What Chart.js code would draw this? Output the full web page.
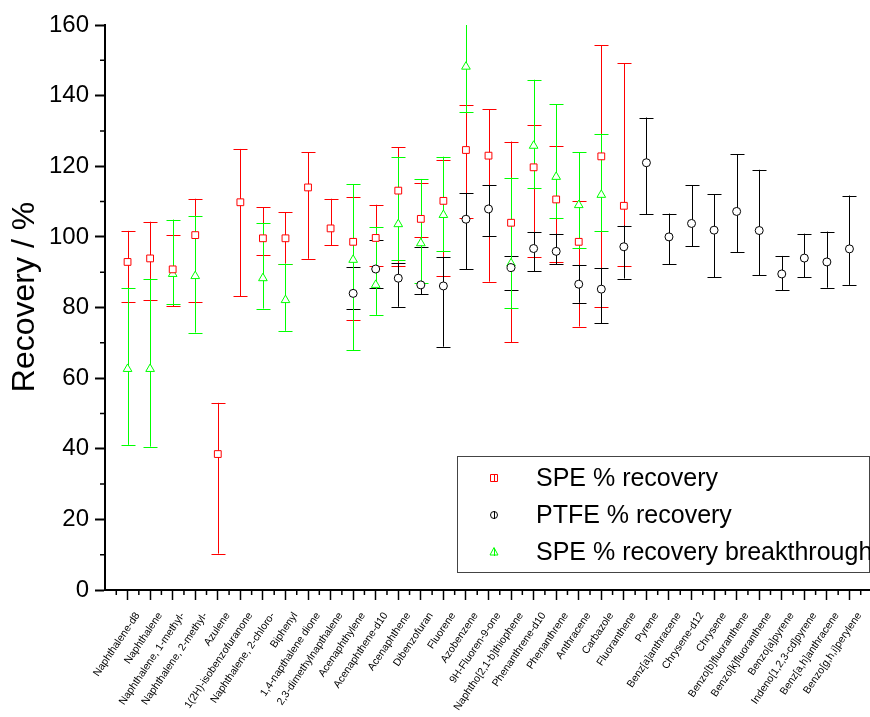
<!DOCTYPE html>
<html>
<head>
<meta charset="utf-8">
<script src="https://cdn.jsdelivr.net/npm/chart.js@4.4.0/dist/chart.umd.min.js"></script>
<style>
  html, body { margin: 0; padding: 0; background: #fff; }
  #wrap { width: 870px; height: 717px; position: relative; }
</style>
</head>
<body>
<div id="wrap"><canvas id="chart"></canvas></div>
<script>
const categories = [
  'Naphthalene-d8', 'Naphthalene', 'Naphthalene, 1-methyl-', 'Naphthalene, 2-methyl-', 'Azulene',
  '1(2H)-isobenzofuranone', 'Naphthalene, 2-chloro-', 'Biphenyl', '1,4-napthalene dione', '2,3-dimethylnapthalene',
  'Acenaphthylene', 'Acenaphthene-d10', 'Acenaphthene', 'Dibenzofuran', 'Fluorene',
  'Azobenzene', '9H-Fluoren-9-one', 'Naphtho[2,1-b]thiophene', 'Phenanthrene-d10', 'Phenanthrene',
  'Anthracene', 'Carbazole', 'Fluoranthene', 'Pyrene', 'Benz[a]anthracene',
  'Chrysene-d12', 'Chrysene', 'Benzo[b]fluoranthene', 'Benzo[k]fluoranthene', 'Benzo[a]pyrene',
  'Indeno[1,2,3-cd]pyrene', 'Benz[a,h]anthracene', 'Benzo[g,h,i]perylene'
];
const yTicks = [0, 20, 40, 60, 80, 100, 120, 140, 160];
const yMinorTicks = [10, 30, 50, 70, 90, 110, 130, 150];
const yTitle = 'Recovery / %';

// SPE % recovery (value, lower end, upper end of error bar)
const speRecovery = [92.9, 93.9, 90.8, 100.5, 38.5, 109.8, 99.6, 99.6, 114.0, 102.4, 98.6, 99.7, 113.1, 105.1, 110.2, 124.6, 123.0, 104.0, 119.7, 110.6, 98.6, 122.8, 108.8, null, null, null, null, null, null, null, null, null, null];
const speLow      = [81.6, 82.1, 80.4, 81.6, 10.3, 83.2, 94.8, 92.4, 93.8, 97.6, 76.5, 91.8, 91.8, 99.9, 89.0, 105.3, 87.3, 70.1, 94.3, 92.8, 74.6, 80.1, 91.7, null, null, null, null, null, null, null, null, null, null];
const speHigh     = [101.7, 104.3, 100.4, 110.8, 53.0, 124.9, 108.4, 107.0, 123.9, 110.8, 111.4, 109.1, 125.4, 115.3, 121.8, 137.4, 136.1, 127.0, 131.7, 125.6, 110.1, 154.3, 149.1, null, null, null, null, null, null, null, null, null, null];

// PTFE % recovery
const ptfeRecovery = [null, null, null, null, null, null, null, null, null, null, 84.0, 90.9, 88.3, 86.4, 86.1, 105.0, 107.9, 91.3, 96.7, 95.9, 86.6, 85.2, 97.2, 121.0, 100.0, 103.8, 101.9, 107.2, 101.8, 89.5, 94.0, 92.9, 96.6];
const ptfeLow      = [null, null, null, null, null, null, null, null, null, null, 79.5, 85.6, 80.2, 83.7, 68.9, 90.8, 100.3, 85.0, 90.3, 92.2, 81.4, 75.6, 88.2, 106.4, 92.2, 97.3, 88.6, 95.6, 89.2, 84.9, 88.6, 85.6, 86.4];
const ptfeHigh     = [null, null, null, null, null, null, null, null, null, null, 91.4, 99.0, 92.6, 97.2, 94.3, 112.4, 114.6, 94.5, 101.3, 100.9, 92.0, 91.2, 103.2, 133.8, 106.6, 114.6, 112.1, 123.4, 119.0, 94.6, 100.9, 101.5, 111.7];

// SPE % recovery breakthrough
const breakRecovery = [62.6, 62.6, 89.5, 88.9, null, null, 88.3, 82.1, null, null, 93.5, 86.4, 103.6, 98.2, 106.2, 148.2, null, 92.5, 125.8, 117.0, 109.0, 111.9, null, null, null, null, null, null, null, null, null, null, null];
const breakLow      = [41.1, 40.6, 80.9, 72.9, null, null, 79.7, 73.4, null, null, 67.9, 77.9, 93.4, 87.0, 95.9, 135.3, null, 79.9, 113.9, 105.4, 96.8, 101.7, null, null, null, null, null, null, null, null, null, null, null];
const breakHigh     = [85.4, 88.1, 104.9, 106.0, null, null, 103.9, 92.4, null, null, 114.9, 102.7, 122.6, 116.4, 122.7, 162.0, null, 116.8, 144.5, 137.5, 124.0, 129.2, null, null, null, null, null, null, null, null, null, null, null];

function points(vals, lows, highs) {
  const out = [];
  vals.forEach((v, i) => {
    if (v !== null) out.push({ x: i, y: v, yMin: lows[i], yMax: highs[i] });
  });
  return out;
}

const FONT = '"Liberation Sans", Arial, sans-serif';
Chart.defaults.font.family = FONT;
Chart.defaults.color = '#000';

// error bars under the markers
const errorBars = {
  id: 'errorBars',
  beforeDatasetsDraw(chart) {
    const ctx = chart.ctx, xs = chart.scales.x, ys = chart.scales.y, area = chart.chartArea;
    ctx.save();
    ctx.beginPath();
    ctx.rect(area.left, area.top, area.right - area.left, area.bottom - area.top);
    ctx.clip();
    chart.data.datasets.forEach(ds => {
      ctx.strokeStyle = ds.borderColor;
      ctx.lineWidth = 1;
      ds.data.forEach(p => {
        const x = Math.round(xs.getPixelForValue(p.x)) + 0.5;
        const y1 = ys.getPixelForValue(p.yMin);
        const y2 = ys.getPixelForValue(p.yMax);
        ctx.beginPath();
        ctx.moveTo(x, y1); ctx.lineTo(x, y2);
        ctx.moveTo(x - 7, Math.round(y1) + 0.5); ctx.lineTo(x + 7, Math.round(y1) + 0.5);
        ctx.moveTo(x - 7, Math.round(y2) + 0.5); ctx.lineTo(x + 7, Math.round(y2) + 0.5);
        ctx.stroke();
      });
    });
    ctx.restore();
  }
};

// minor ticks, axis title and the legend box
const extras = {
  id: 'extras',
  afterDraw(chart) {
    const ctx = chart.ctx, xs = chart.scales.x, ys = chart.scales.y, area = chart.chartArea;
    ctx.save();
    ctx.strokeStyle = '#000';
    ctx.lineWidth = 2;
    ctx.beginPath();
    ctx.moveTo(area.right - 1, area.bottom); ctx.lineTo(chart.width, area.bottom);
    ctx.stroke();
    ctx.lineWidth = 1.5;
    ctx.beginPath();
    for (let i = -0.5; i < categories.length + 0.5; i += 1) {
      const x = xs.getPixelForValue(i);
      ctx.moveTo(x, area.bottom); ctx.lineTo(x, area.bottom + 5);
    }
    yMinorTicks.forEach(v => {
      const y = ys.getPixelForValue(v);
      ctx.moveTo(area.left - 5, y); ctx.lineTo(area.left, y);
    });
    ctx.stroke();

    ctx.save();
    ctx.translate(25, 297);
    ctx.rotate(-Math.PI / 2);
    ctx.fillStyle = '#000';
    ctx.font = '32px ' + FONT;
    ctx.textAlign = 'center';
    ctx.textBaseline = 'middle';
    ctx.fillText(yTitle, 0, 0);
    ctx.restore();

    // legend
    const bx = 457, by = 456, bw = 412, bh = 116;
    ctx.strokeStyle = '#444';
    ctx.lineWidth = 1;
    ctx.strokeRect(bx + 0.5, by + 0.5, bw, bh);
    ctx.font = '25px ' + FONT;
    ctx.textBaseline = 'middle';
    ctx.textAlign = 'left';
    chart.data.datasets.forEach((ds, i) => {
      const my = by + 22 + i * 37;
      const mx = 494;
      ctx.strokeStyle = ds.borderColor;
      ctx.fillStyle = '#fff';
      ctx.lineWidth = 1;
      ctx.beginPath();
      if (ds.pointStyle === 'rect') {
        ctx.rect(mx - 3.5, my - 3.5, 7, 7);
      } else if (ds.pointStyle === 'circle') {
        ctx.arc(mx, my, 3.5, 0, Math.PI * 2);
      } else {
        ctx.moveTo(mx, my - 4.5); ctx.lineTo(mx + 4, my + 3); ctx.lineTo(mx - 4, my + 3); ctx.closePath();
      }
      ctx.fill();
      ctx.stroke();
      ctx.beginPath();
      ctx.moveTo(mx + 0.5, my - 4); ctx.lineTo(mx + 0.5, my + 4);
      ctx.stroke();
      ctx.fillStyle = '#000';
      ctx.fillText(ds.label, 536, my + 1);
    });
    ctx.restore();
  }
};

new Chart(document.getElementById('chart').getContext('2d'), {
  type: 'scatter',
  data: {
    datasets: [
      {
        label: 'SPE % recovery',
        data: points(speRecovery, speLow, speHigh),
        pointStyle: 'rect', pointRadius: 4.8, borderWidth: 1,
        borderColor: '#FF0000', backgroundColor: '#FFFFFF'
      },
      {
        label: 'PTFE % recovery',
        data: points(ptfeRecovery, ptfeLow, ptfeHigh),
        pointStyle: 'circle', pointRadius: 4, borderWidth: 1,
        borderColor: '#000000', backgroundColor: '#FFFFFF'
      },
      {
        label: 'SPE % recovery breakthrough',
        data: points(breakRecovery, breakLow, breakHigh),
        pointStyle: 'triangle', pointRadius: 5, borderWidth: 1,
        borderColor: '#00FF00', backgroundColor: '#FFFFFF'
      }
    ]
  },
  options: {
    responsive: true,
    maintainAspectRatio: false,
    animation: false,
    devicePixelRatio: 1,
    layout: { padding: { top: 25, right: 0, left: 0, bottom: 0 } },
    plugins: {
      legend: { display: false },
      tooltip: { enabled: false }
    },
    scales: {
      x: {
        type: 'linear',
        min: -1,
        max: 32.6,
        afterBuildTicks: s => { s.ticks = categories.map((c, i) => ({ value: i })); },
        afterFit: s => { s.height = 127; },
        ticks: {
          autoSkip: false,
          minRotation: 56,
          maxRotation: 56,
          padding: 10,
          labelOffset: 10,
          font: { size: 10.5 },
          callback: v => categories[v] || ''
        },
        grid: { drawOnChartArea: false, tickLength: 10, tickWidth: 1.5, tickColor: '#000' },
        border: { color: '#000', width: 2 }
      },
      y: {
        min: 0,
        max: 160,
        afterBuildTicks: s => { s.ticks = yTicks.map(v => ({ value: v })); },
        afterFit: s => { s.width = 105; },
        ticks: { padding: 6, font: { size: 24 } },
        grid: { drawOnChartArea: false, tickLength: 10, tickWidth: 2, tickColor: '#000' },
        border: { color: '#000', width: 2 }
      }
    }
  },
  plugins: [errorBars, extras]
});
</script>
</body>
</html>
